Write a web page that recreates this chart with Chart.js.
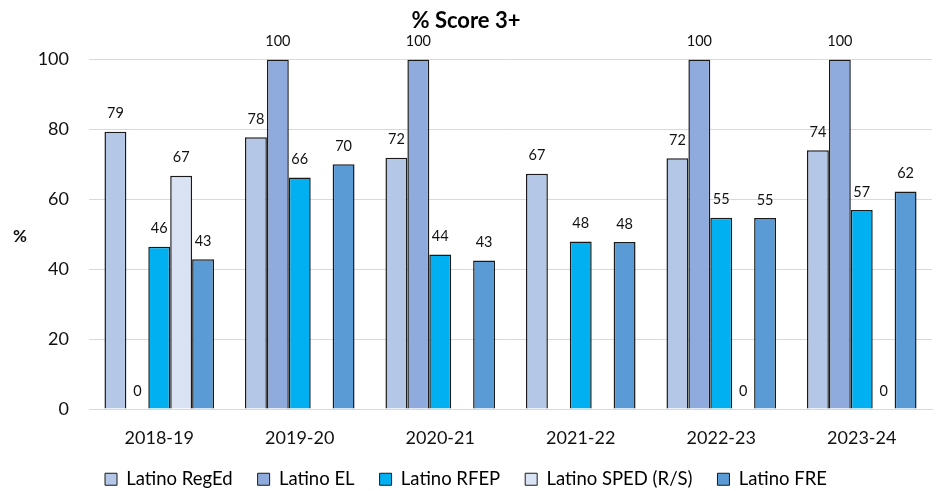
<!DOCTYPE html>
<html>
<head>
<meta charset="utf-8">
<script src="https://cdn.jsdelivr.net/npm/chart.js@4"></script>
<style>
  html, body { margin: 0; padding: 0; background: #fff; }
  #wrap { width: 937px; height: 491px; }
</style>
</head>
<body>
<div id="wrap"><canvas id="scoreChart" width="937" height="491"></canvas></div>
<script>
const years = ["2018-19", "2019-20", "2020-21", "2021-22", "2022-23", "2023-24"];
const regEd = [79.3, 77.7, 71.9, 67.3, 71.7, 74.0];
const el = [0, 100, 100, null, 100, 100];
const rfep = [46.4, 66.2, 44.2, 47.9, 54.7, 56.9];
const sped = [66.7, null, null, null, 0, 0];
const fre = [42.8, 70.0, 42.5, 47.8, 54.6, 62.2];
const yTicks = [0, 20, 40, 60, 80, 100];

const FONT = "Lato, 'Open Sans', sans-serif";

// value labels above each bar, plus the horizontal "%" axis title
const barLabels = {
  id: "barLabels",
  afterDatasetsDraw(chart) {
    const ctx = chart.ctx;
    ctx.save();
    ctx.font = "14.5px " + FONT;
    ctx.fillStyle = "#111";
    ctx.textAlign = "center";
    ctx.textBaseline = "middle";
    chart.data.datasets.forEach((ds, i) => {
      const meta = chart.getDatasetMeta(i);
      meta.data.forEach((bar, j) => {
        const v = ds.data[j];
        if (v === null || v === undefined) return;
        ctx.fillText(Math.round(v), bar.x, bar.y - 18);
      });
    });
    ctx.font = "bold 17px " + FONT;
    ctx.fillText("%", 20, 237);
    ctx.restore();
  }
};

const border = c => (c.raw === 0 ? 0 : 1.5);

function series(label, data, color) {
  return {
    label: label,
    data: data,
    backgroundColor: color,
    borderColor: "#1a1a1a",
    borderWidth: border,
    borderSkipped: "bottom"
  };
}

new Chart(document.getElementById("scoreChart"), {
  type: "bar",
  data: {
    labels: years,
    datasets: [
      series("Latino RegEd", regEd, "#B4C7E7"),
      series("Latino EL", el, "#8FAADC"),
      series("Latino RFEP", rfep, "#00B0F0"),
      series("Latino SPED (R/S)", sped, "#DAE3F3"),
      series("Latino FRE", fre, "#5B9BD5")
    ]
  },
  options: {
    responsive: false,
    animation: false,
    layout: { padding: { left: 0, right: 5, top: 0, bottom: 0 } },
    datasets: { bar: { categoryPercentage: 0.78, barPercentage: 1.0 } },
    plugins: {
      title: {
        display: true,
        text: "% Score 3+",
        color: "#000",
        font: { family: FONT, size: 22, weight: "bold" },
        padding: { top: 8, bottom: 25 }
      },
      legend: {
        position: "bottom",
        maxHeight: 46,
        labels: {
          color: "#111",
          font: { family: FONT, size: 18.5 },
          boxWidth: 12,
          boxHeight: 12,
          padding: 25,
          generateLabels(chart) {
            return chart.data.datasets.map((ds, i) => ({
              text: ds.label,
              fillStyle: ds.backgroundColor,
              strokeStyle: "#1a1a1a",
              lineWidth: 1,
              datasetIndex: i
            }));
          }
        }
      },
      tooltip: { enabled: false }
    },
    scales: {
      x: {
        afterFit(scale) { scale.height = 36; },
        grid: { display: false, drawTicks: false },
        border: { display: true, color: "#D9D9D9", width: 1 },
        ticks: { color: "#111", font: { family: FONT, size: 18 }, padding: 18 }
      },
      y: {
        min: 0,
        max: 100,
        afterFit(scale) { scale.width = 89; },
        afterBuildTicks(scale) { scale.ticks = yTicks.map(v => ({ value: v })); },
        grid: { color: "#D9D9D9", lineWidth: 1, drawTicks: false },
        border: { display: false },
        ticks: { color: "#111", font: { family: FONT, size: 18 }, padding: 20 }
      }
    }
  },
  plugins: [barLabels]
});
</script>
</body>
</html>
